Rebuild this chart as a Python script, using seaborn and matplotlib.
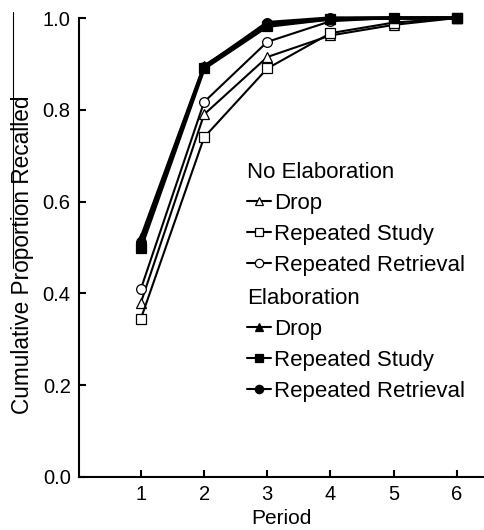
import matplotlib
matplotlib.use("Agg")
import matplotlib.pyplot as plt
from matplotlib.lines import Line2D
import seaborn as sns
import pandas as pd

periods = [1, 2, 3, 4, 5, 6]
noelab_drop = [0.38, 0.79, 0.915, 0.962, 0.985, 1.0]
noelab_study = [0.345, 0.74, 0.89, 0.967, 0.99, 1.0]
noelab_retrieval = [0.41, 0.817, 0.948, 0.993, 1.0, 1.0]
elab_drop = [0.52, 0.895, 0.985, 0.998, 1.0, 1.0]
elab_study = [0.50, 0.89, 0.982, 0.998, 1.0, 1.0]
elab_retrieval = [0.512, 0.893, 0.99, 1.0, 1.0, 1.0]
series_labels = ["Drop", "Repeated Study", "Repeated Retrieval"]
group_titles = ["No Elaboration", "Elaboration"]
y_ticks = [0.0, 0.2, 0.4, 0.6, 0.8, 1.0]

sns.set_theme(style="ticks")
plt.rcParams["font.family"] = ["Liberation Sans", "DejaVu Sans"]
plt.rcParams["text.color"] = "black"
plt.rcParams["axes.labelcolor"] = "black"

fig = plt.figure(figsize=(4.84, 5.30), dpi=100)
ax = fig.add_axes([79 / 484, 53 / 530, 1 - 79 / 484, (477 - 18) / 530])

markers = ["^", "s", "o"]
noelab = [noelab_drop, noelab_study, noelab_retrieval]
elab = [elab_drop, elab_study, elab_retrieval]

for vals, m in zip(noelab, markers):
    df = pd.DataFrame({"Period": periods, "Value": vals})
    sns.lineplot(data=df, x="Period", y="Value", ax=ax, color="black", lw=1.5,
                 marker=m, markersize=7, markerfacecolor="white",
                 markeredgecolor="black", markeredgewidth=0.9, legend=False,
                 zorder=3, clip_on=False)
for vals, m in zip(elab, markers):
    df = pd.DataFrame({"Period": periods, "Value": vals})
    sns.lineplot(data=df, x="Period", y="Value", ax=ax, color="black", lw=2.4,
                 marker=m, markersize=7, markerfacecolor="black",
                 markeredgecolor="black", markeredgewidth=0.9, legend=False,
                 zorder=4, clip_on=False)

ax.set_xlim(0.02, 6.43)
ax.set_ylim(0, 1.0)
ax.set_xticks(periods)
ax.set_yticks(y_ticks)
ax.set_yticklabels([f"{v:.1f}" for v in y_ticks])
ax.tick_params(direction="in", length=5, width=1.5, labelsize=14.5, pad=6,
               colors="black")
for s in ["top", "right"]:
    ax.spines[s].set_visible(False)
for s in ["left", "bottom"]:
    ax.spines[s].set_linewidth(1.5)
    ax.spines[s].set_color("black")

ax.set_xlabel("Period", fontsize=15, labelpad=3, color="black")
ax.set_ylabel("Cumulative Proportion Recalled", fontsize=16.3, color="black")
ax.yaxis.set_label_coords(-0.11, (477 - 255) / 459)

def handles(filled):
    fc = "black" if filled else "white"
    return [Line2D([], [], color="black", lw=1.5, marker=m, markersize=6,
                   markerfacecolor=fc, markeredgecolor="black",
                   markeredgewidth=0.9) for m in markers]

leg_kw = dict(frameon=False, fontsize=16, title_fontsize=16, loc="upper left",
              borderpad=0, borderaxespad=0, handlelength=1.1,
              handletextpad=0.1, labelspacing=0.45, alignment="left",
              labelcolor="black", bbox_transform=fig.transFigure)
leg1 = ax.legend(handles(False), series_labels, title=group_titles[0],
                 bbox_to_anchor=(247 / 484, 1 - 162 / 530), **leg_kw)
leg1.get_title().set_color("black")
ax.add_artist(leg1)
leg2 = ax.legend(handles(True), series_labels, title=group_titles[1],
                 bbox_to_anchor=(247 / 484, 1 - 288 / 530), **leg_kw)
leg2.get_title().set_color("black")

fig.add_artist(Line2D([13 / 484, 13 / 484], [1 - 12 / 530, 1 - 268 / 530],
                      transform=fig.transFigure, color="black", lw=0.8))

fig.savefig("out.png", dpi=100)
